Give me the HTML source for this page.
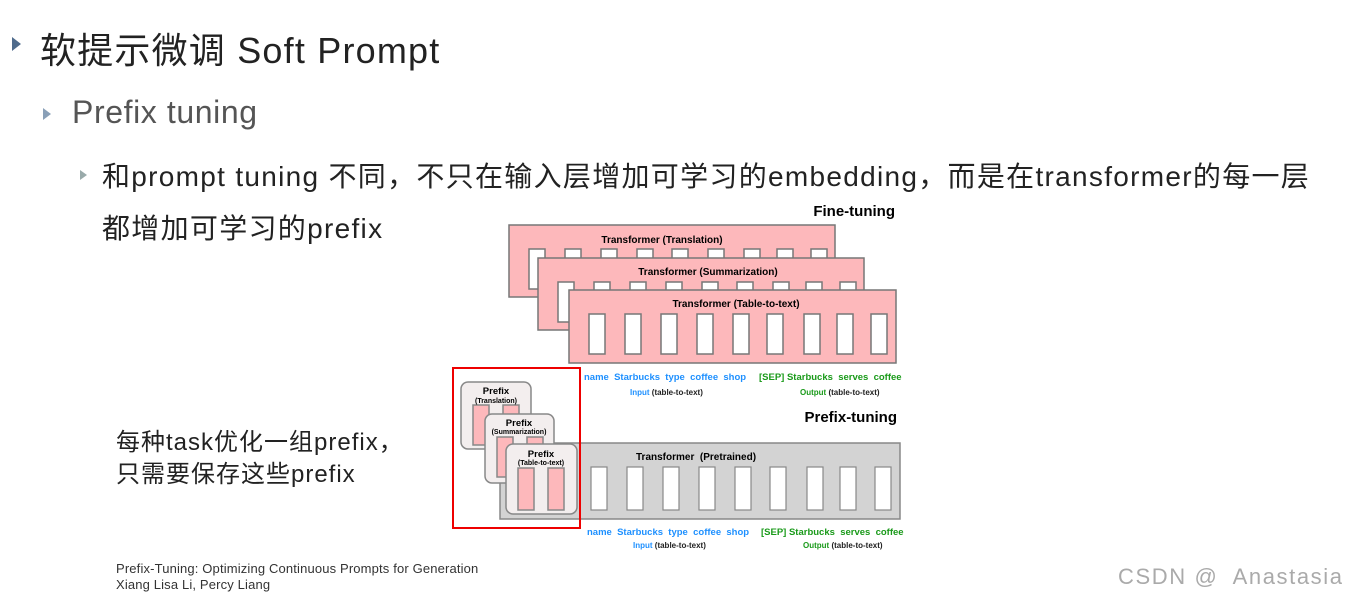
<!DOCTYPE html>
<html><head><meta charset="utf-8"><style>
body{margin:0;width:1348px;height:599px;background:#fff;position:relative;overflow:hidden;font-family:"Liberation Sans","Noto Sans CJK SC",sans-serif;}
.t{position:absolute;white-space:nowrap;}
.tri{position:absolute;width:0;height:0;border-top:7px solid transparent;border-bottom:7px solid transparent;}
</style></head><body>
<div class="tri" style="left:12px;top:37px;border-left:9px solid #4f6b8c"></div>
<div class="t" style="left:40px;top:22px;font-size:36px;color:#222;letter-spacing:1.2px">软提示微调 Soft Prompt</div>
<div class="tri" style="left:43px;top:108px;border-left:8px solid #8aa0b8;border-top-width:6px;border-bottom-width:6px"></div>
<div class="t" style="left:72px;top:94px;font-size:32px;color:#555;letter-spacing:0.6px">Prefix tuning</div>
<div class="tri" style="left:80px;top:170px;border-left:7px solid #9aa;border-top-width:5px;border-bottom-width:5px"></div>
<div class="t" style="left:102px;top:155px;font-size:28px;color:#222;letter-spacing:1.3px">和prompt tuning 不同，不只在输入层增加可学习的embedding，而是在transformer的每一层</div>
<div class="t" style="left:102px;top:207px;font-size:28px;color:#222;letter-spacing:1.3px">都增加可学习的prefix</div>
<div class="t" style="left:116px;top:427px;font-size:24px;color:#222;line-height:32px;letter-spacing:1px">每种task优化一组prefix，<br>只需要保存这些prefix</div>
<div class="t" style="left:116px;top:561px;font-size:13px;color:#333;line-height:16px;letter-spacing:0.15px">Prefix-Tuning: Optimizing Continuous Prompts for Generation<br>Xiang Lisa Li, Percy Liang</div>
<div class="t" style="left:1118px;top:564px;font-size:22px;color:#aaa;letter-spacing:1.6px">CSDN @&nbsp; Anastasia</div>
<svg width="1348" height="599" style="position:absolute;left:0;top:0" font-family="Liberation Sans, sans-serif" font-weight="bold">
<text x="895" y="216" font-size="15" text-anchor="end">Fine-tuning</text>
<g stroke="#777" stroke-width="1.5">
<rect x="509" y="225" width="326" height="72" fill="#fdb8bb"/>
<g fill="#fff"><rect x="529" y="249" width="16" height="40"/><rect x="565" y="249" width="16" height="12"/><rect x="601" y="249" width="16" height="12"/><rect x="637" y="249" width="16" height="12"/><rect x="672" y="249" width="16" height="12"/><rect x="708" y="249" width="16" height="12"/><rect x="744" y="249" width="16" height="12"/><rect x="777" y="249" width="16" height="12"/><rect x="811" y="249" width="16" height="12"/></g>
<rect x="538" y="258" width="326" height="72" fill="#fdb8bb"/>
<g fill="#fff"><rect x="558" y="282" width="16" height="40"/><rect x="594" y="282" width="16" height="10"/><rect x="630" y="282" width="16" height="10"/><rect x="666" y="282" width="16" height="10"/><rect x="702" y="282" width="16" height="10"/><rect x="737" y="282" width="16" height="10"/><rect x="773" y="282" width="16" height="10"/><rect x="806" y="282" width="16" height="10"/><rect x="840" y="282" width="16" height="10"/></g>
<rect x="569" y="290" width="327" height="73" fill="#fdb8bb"/>
<g fill="#fff"><rect x="589" y="314" width="16" height="40"/><rect x="625" y="314" width="16" height="40"/><rect x="661" y="314" width="16" height="40"/><rect x="697" y="314" width="16" height="40"/><rect x="733" y="314" width="16" height="40"/><rect x="767" y="314" width="16" height="40"/><rect x="804" y="314" width="16" height="40"/><rect x="837" y="314" width="16" height="40"/><rect x="871" y="314" width="16" height="40"/></g>
</g>
<g font-size="10" text-anchor="middle"><text x="662" y="243">Transformer (Translation)</text><text x="708" y="275">Transformer (Summarization)</text><text x="736" y="307">Transformer (Table-to-text)</text></g>
<text x="584" y="380" font-size="9.5" fill="#1e90ff">name&#160; Starbucks&#160; type&#160; coffee&#160; shop</text>
<text x="759" y="380" font-size="9.5" fill="#1a9a1a">[SEP] Starbucks&#160; serves&#160; coffee</text>
<text x="630" y="395" font-size="8" fill="#1e90ff">Input <tspan fill="#222">(table-to-text)</tspan></text>
<text x="800" y="395" font-size="8" fill="#1a9a1a">Output <tspan fill="#222">(table-to-text)</tspan></text>
<text x="897" y="422" font-size="15" text-anchor="end">Prefix-tuning</text>
<rect x="500" y="443" width="400" height="76" fill="#d3d3d3" stroke="#888" stroke-width="1.5"/>
<text x="636" y="460" font-size="10">Transformer&#160; (Pretrained)</text>
<g fill="#fff" stroke="#888" stroke-width="1.2"><rect x="591" y="467" width="16" height="43"/><rect x="627" y="467" width="16" height="43"/><rect x="663" y="467" width="16" height="43"/><rect x="699" y="467" width="16" height="43"/><rect x="735" y="467" width="16" height="43"/><rect x="770" y="467" width="16" height="43"/><rect x="807" y="467" width="16" height="43"/><rect x="840" y="467" width="16" height="43"/><rect x="875" y="467" width="16" height="43"/></g>
<g stroke="#888" stroke-width="1.5">
<rect x="461" y="382" width="70" height="67" rx="7" fill="#f3eeee"/>
<rect x="473" y="405" width="16" height="40" fill="#fdb8bb"/><rect x="503" y="405" width="16" height="10" fill="#fdb8bb"/>
<rect x="485" y="414" width="69" height="69" rx="7" fill="#f3eeee"/>
<rect x="497" y="437" width="16" height="40" fill="#fdb8bb"/><rect x="527" y="437" width="16" height="10" fill="#fdb8bb"/>
<rect x="506" y="444" width="71" height="70" rx="7" fill="#f3eeee"/>
<rect x="518" y="468" width="16" height="42" fill="#fdb8bb"/><rect x="548" y="468" width="16" height="42" fill="#fdb8bb"/>
</g>
<g text-anchor="middle"><text x="496" y="394" font-size="9.5">Prefix</text><text x="496" y="403" font-size="7">(Translation)</text>
<text x="519" y="426" font-size="9.5">Prefix</text><text x="519" y="434" font-size="7">(Summarization)</text>
<text x="541" y="457" font-size="9.5">Prefix</text><text x="541" y="465" font-size="7">(Table-to-text)</text></g>
<rect x="453" y="368" width="127" height="160" fill="none" stroke="#e00" stroke-width="2"/>
<text x="587" y="535" font-size="9.5" fill="#1e90ff">name&#160; Starbucks&#160; type&#160; coffee&#160; shop</text>
<text x="761" y="535" font-size="9.5" fill="#1a9a1a">[SEP] Starbucks&#160; serves&#160; coffee</text>
<text x="633" y="548" font-size="8" fill="#1e90ff">Input <tspan fill="#222">(table-to-text)</tspan></text>
<text x="803" y="548" font-size="8" fill="#1a9a1a">Output <tspan fill="#222">(table-to-text)</tspan></text>
</svg>
</body></html>
